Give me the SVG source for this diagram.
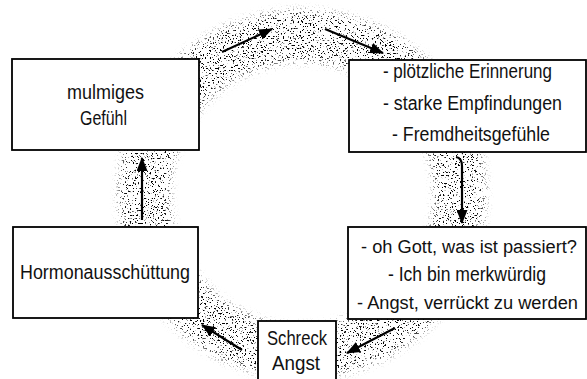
<svg xmlns="http://www.w3.org/2000/svg" width="587" height="379" viewBox="0 0 587 379">
<style>
.box{fill:#fff;stroke:#000;stroke-width:1.8}
.t{font-family:"Liberation Sans",Arial,sans-serif;font-size:19.5px;fill:#111}
.s{font-size:18px}
.arr{fill:none;stroke:#000;stroke-width:2.2;marker-end:url(#ah)}
</style>
<defs>
<marker id="ah" markerUnits="userSpaceOnUse" markerWidth="15" markerHeight="11" refX="13" refY="5.5" orient="auto">
<path d="M0,0 L14,5.5 L0,11 Z" fill="#000"/>
</marker>
<filter id="stip" filterUnits="userSpaceOnUse" x="0" y="0" width="587" height="379">
<feGaussianBlur in="SourceGraphic" stdDeviation="4" result="band"/>
<feTurbulence type="fractalNoise" baseFrequency="0.6" numOctaves="2" seed="7" result="noise"/>
<feColorMatrix in="noise" type="matrix" values="0 0 0 0 0  0 0 0 0 0  0 0 0 0 0  -14 0 0 0 5.5" result="dots"/>
<feComposite in="dots" in2="band" operator="in"/>
</filter>
</defs>
<g id="ring">
<ellipse cx="302" cy="194" rx="158" ry="158" fill="none" stroke="#000" stroke-width="50" filter="url(#stip)"/>
</g>
<g id="connectors">
<path class="arr" d="M222,52 L272,29"/>
<path class="arr" d="M325,29 L383,53"/>
<path class="arr" d="M456,157 Q462,158 462,166 L462,223"/>
<path class="arr" d="M395,328 L347,353"/>
<path class="arr" d="M242,350 L202,325"/>
<path class="arr" d="M142,220 L142,158"/>
</g>
<g id="node-mulmiges">
<rect class="box" x="12" y="59" width="187" height="91"/>
<text class="t" x="67" y="99" textLength="77" lengthAdjust="spacingAndGlyphs">mulmiges</text>
<text class="t" x="80" y="125" textLength="47" lengthAdjust="spacingAndGlyphs">Gefühl</text>
</g>
<g id="node-erinnerung">
<rect class="box" x="349" y="60" width="237" height="92"/>
<text class="t" x="383" y="78" textLength="169" lengthAdjust="spacingAndGlyphs">- plötzliche Erinnerung</text>
<text class="t" x="383" y="110" textLength="179" lengthAdjust="spacingAndGlyphs">- starke Empfindungen</text>
<text class="t" x="392" y="141" textLength="158" lengthAdjust="spacingAndGlyphs">- Fremdheitsgefühle</text>
</g>
<g id="node-hormon">
<rect class="box" x="13" y="227" width="185" height="91"/>
<text class="t" x="20" y="279" textLength="170" lengthAdjust="spacingAndGlyphs">Hormonausschüttung</text>
</g>
<g id="node-gott">
<rect class="box" x="348" y="227" width="238" height="92"/>
<text class="t s" x="361" y="253" textLength="216" lengthAdjust="spacingAndGlyphs">- oh Gott, was ist passiert?</text>
<text class="t" x="388" y="281" textLength="158" lengthAdjust="spacingAndGlyphs">- Ich bin merkwürdig</text>
<text class="t s" x="357" y="309" textLength="221" lengthAdjust="spacingAndGlyphs">- Angst, verrückt zu werden</text>
</g>
<g id="node-schreck">
<rect class="box" x="258" y="321" width="78" height="64"/>
<text class="t" x="267" y="345" textLength="60" lengthAdjust="spacingAndGlyphs">Schreck</text>
<text class="t" x="272" y="370" textLength="48" lengthAdjust="spacingAndGlyphs">Angst</text>
</g>
</svg>
